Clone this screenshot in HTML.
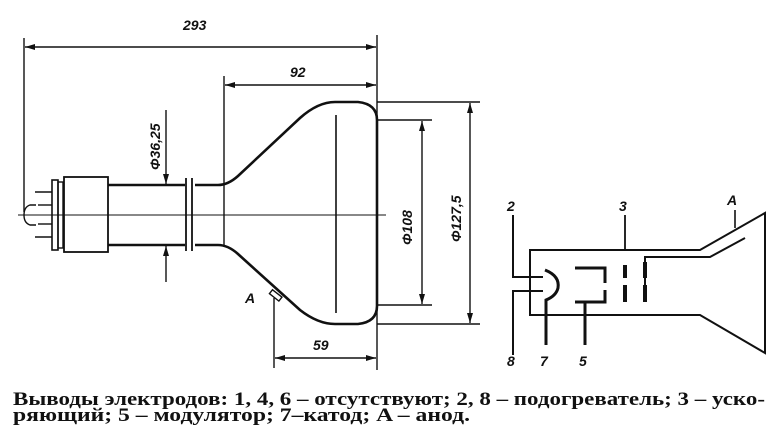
<!DOCTYPE html>
<html><head><meta charset="utf-8"><style>
html,body{margin:0;padding:0;background:#fff;}
svg{display:block;}
.t{font-family:"Liberation Sans",sans-serif;font-style:italic;font-weight:bold;font-size:14px;fill:#111;}
.c{font-family:"Liberation Serif","DejaVu Serif",serif;font-weight:bold;font-size:19px;fill:#111;}
</style></head><body>
<svg width="780" height="436" viewBox="0 0 780 436" xmlns="http://www.w3.org/2000/svg">
<defs>
<marker id="ar" viewBox="0 0 10 6" refX="10" refY="3" markerWidth="10" markerHeight="6" orient="auto-start-reverse" markerUnits="userSpaceOnUse"><path d="M0,0 L10,3 L0,6 Z" fill="#111"/></marker>
</defs>
<g stroke="#111" fill="none" stroke-width="1.4">
<line x1="24" y1="38" x2="24" y2="212"/>
<line x1="377" y1="35" x2="377" y2="370"/>
<line x1="25" y1="47" x2="376" y2="47" marker-start="url(#ar)" marker-end="url(#ar)"/>
<line x1="224" y1="76" x2="224" y2="247"/>
<line x1="225" y1="85" x2="376" y2="85" marker-start="url(#ar)" marker-end="url(#ar)"/>
<path d="M195,185 L218,185 Q228,185 238,176 L300,118 Q318,102 335,102 L358,102 Q377,104 377,120 L377,306 Q377,322 358,324 L335,324 Q318,324 300,310 L238,254 Q228,245 218,245 L195,245" stroke-width="2.6"/>
<line x1="336" y1="115" x2="336" y2="313" stroke-width="1.6"/>
<line x1="377" y1="102" x2="480" y2="102"/>
<line x1="377" y1="324" x2="480" y2="324"/>
<line x1="377" y1="120" x2="432" y2="120"/>
<line x1="377" y1="305" x2="432" y2="305"/>
<line x1="422" y1="121" x2="422" y2="304" marker-start="url(#ar)" marker-end="url(#ar)"/>
<line x1="470" y1="103" x2="470" y2="323" marker-start="url(#ar)" marker-end="url(#ar)"/>
<line x1="18" y1="215" x2="386" y2="215" stroke-width="1"/>
<line x1="108" y1="185" x2="185" y2="185" stroke-width="2.4"/>
<line x1="108" y1="245" x2="185" y2="245" stroke-width="2.4"/>
<line x1="186" y1="178" x2="186" y2="251" stroke-width="1.8"/>
<line x1="192" y1="178" x2="192" y2="251" stroke-width="1.8"/>
<rect x="64" y="177" width="44" height="75" stroke-width="1.8"/>
<rect x="52" y="180" width="6" height="70" stroke-width="1.6"/>
<rect x="58" y="182" width="5" height="66" stroke-width="1.4"/>
<line x1="35" y1="192" x2="52" y2="192"/>
<line x1="38" y1="205" x2="52" y2="205"/>
<line x1="38" y1="224" x2="52" y2="224"/>
<line x1="35" y1="237" x2="52" y2="237"/>
<path d="M36,205 L30,205 Q24,207 24,215 Q24,223 30,225 L36,225"/>
<line x1="166" y1="110" x2="166" y2="184" marker-end="url(#ar)"/>
<line x1="166" y1="282" x2="166" y2="246" marker-end="url(#ar)"/>
<line x1="274" y1="298" x2="274" y2="368"/>
<line x1="275" y1="358" x2="376" y2="358" marker-start="url(#ar)" marker-end="url(#ar)"/>
<rect x="270" y="293" width="12" height="5" transform="rotate(38 276 295)"/>
<path d="M530,250 L700,250 L765,213 L765,353 L700,315 L530,315 Z" stroke-width="2"/>
<path d="M645,300 L645,257 L710,257 L745,238" stroke-width="2"/>
<line x1="735" y1="210" x2="735" y2="228" stroke-width="1.6"/>
<path d="M513,215 L513,277 L543,277" stroke-width="2"/>
<path d="M513,355 L513,291 L543,291" stroke-width="2"/>
<path d="M545,270 Q560,276 558,288 Q556,296 546,300 L546,345" stroke-width="3"/>
<path d="M575,268 L605,268 L605,283 M605,290 L605,302 L575,302 M585,302 L585,345" stroke-width="3"/>
<path d="M625,215 L625,250" stroke-width="1.8"/>
<path d="M625,265 L625,278 M625,285 L625,302 M645,262 L645,278 M645,285 L645,302" stroke-width="4"/>
</g>
<text class="t" x="183" y="30">293</text>
<text class="t" x="290" y="77">92</text>
<text class="t" x="313" y="350">59</text>
<text class="t" x="245" y="303">A</text>
<text class="t" transform="translate(160,170) rotate(-90)">Φ36,25</text>
<text class="t" transform="translate(412,245) rotate(-90)">Φ108</text>
<text class="t" transform="translate(461,242) rotate(-90)">Φ127,5</text>
<text class="t" x="507" y="211">2</text>
<text class="t" x="619" y="211">3</text>
<text class="t" x="727" y="205">A</text>
<text class="t" x="507" y="366">8</text>
<text class="t" x="540" y="366">7</text>
<text class="t" x="579" y="366">5</text>
<text class="c" x="13" y="405" textLength="752" lengthAdjust="spacingAndGlyphs">Выводы электродов: 1, 4, 6 – отсутствуют; 2, 8 – подогреватель; 3 – уско-</text>
<text class="c" x="13" y="421" textLength="457" lengthAdjust="spacingAndGlyphs">ряющий; 5 – модулятор; 7–катод; A – анод.</text>
</svg>
</body></html>
